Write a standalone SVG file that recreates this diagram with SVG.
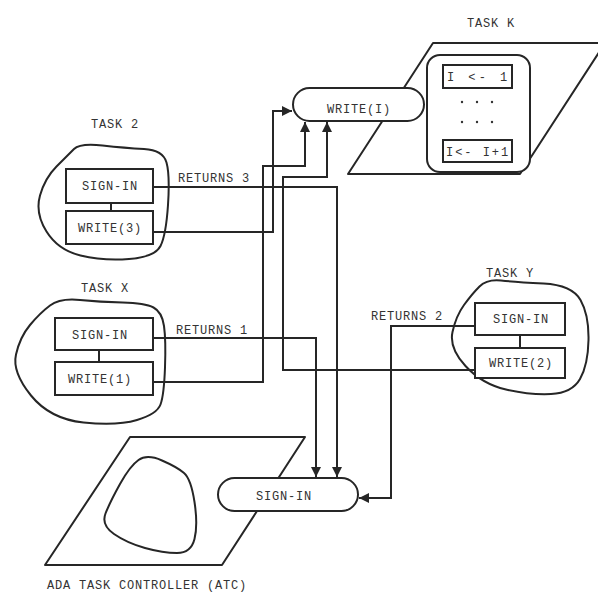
<svg xmlns="http://www.w3.org/2000/svg" width="598" height="593" viewBox="0 0 598 593">
<style>
.s{fill:none;stroke:#262626;stroke-width:2;stroke-linejoin:round}
.w{fill:#fff;stroke:#262626;stroke-width:2}
.c{fill:none;stroke:#262626;stroke-width:2}
text{font-family:"Liberation Mono","DejaVu Sans Mono",monospace;font-size:12px;fill:#333;letter-spacing:0.8px}
.m{text-anchor:middle}
</style>
<defs>
<marker id="ah" markerUnits="userSpaceOnUse" markerWidth="12" markerHeight="12" refX="10" refY="5" orient="auto">
<path d="M0,0 L10,5 L0,10 Z" fill="#262626"/>
</marker>
</defs>
<rect width="598" height="593" fill="#fff"/>

<g id="task-k">
<polygon class="s" points="433,43 605,43 520,174 348,174"/>
<rect class="w" x="427" y="55" width="103" height="117" rx="13"/>
<rect class="w" x="443" y="65" width="69" height="23"/>
<text x="447" y="81" textLength="61">I &lt;- 1</text>
<g fill="#333">
<circle cx="462" cy="102" r="1.2"/><circle cx="477" cy="102" r="1.2"/><circle cx="492" cy="102" r="1.2"/>
<circle cx="462" cy="122" r="1.2"/><circle cx="477" cy="122" r="1.2"/><circle cx="492" cy="122" r="1.2"/>
</g>
<rect class="w" x="443" y="140" width="69" height="22"/>
<text x="446" y="156" textLength="63">I&lt;- I+1</text>
<text class="m" x="491" y="27">TASK K</text>
</g>

<g id="write-i">
<rect class="w" x="293" y="88" width="131" height="33" rx="16.5"/>
<text class="m" x="359" y="113">WRITE(I)</text>
</g>

<g id="task-2">
<path class="s" d="M74,149 Q80,143 102.5,145.5 Q125,148 144,149 Q163,150 166.5,162.5 Q170,175 168,205 Q166,235 160.5,246 Q155,257 129,259 Q103,261 80.5,255.5 Q58,250 46.5,231.5 Q35,213 40,195.5 Q45,178 56.5,166.5 Q68,155 74,149 Z"/>
<rect class="w" x="66" y="169" width="87" height="34"/>
<line class="c" x1="111" y1="203" x2="111" y2="211"/>
<rect class="w" x="66" y="211" width="87" height="33"/>
<text class="m" x="110" y="190">SIGN-IN</text>
<text class="m" x="110" y="232">WRITE(3)</text>
<text class="m" x="115" y="128">TASK 2</text>
</g>

<g id="task-x">
<path class="s" d="M50,305.5 Q60,298 80,300 Q100,302 122.5,302.5 Q145,303 153.5,307.5 Q162,312 164,326 Q166,340 165,367.5 Q164,395 160.5,404.5 Q157,414 137,420 Q117,426 83.5,422.5 Q50,419 31,395.5 Q12,372 16,354.5 Q20,337 30,325 Q40,313 50,305.5 Z"/>
<rect class="w" x="55" y="318" width="98" height="32"/>
<line class="c" x1="99" y1="350" x2="99" y2="362"/>
<rect class="w" x="55" y="362" width="98" height="33"/>
<text class="m" x="100" y="339">SIGN-IN</text>
<text class="m" x="100" y="383">WRITE(1)</text>
<text class="m" x="105" y="292">TASK X</text>
</g>

<g id="task-y">
<path class="s" d="M479.5,286.5 Q487,279 501,280.5 Q515,282 543.5,283.5 Q572,285 580.5,300 Q589,315 588.5,340 Q588,365 580,379 Q572,393 551,394 Q530,395 506,389.5 Q482,384 465.5,366 Q449,348 452.5,332 Q456,316 464,305 Q472,294 479.5,286.5 Z"/>
<rect class="w" x="475" y="303" width="90" height="32"/>
<line class="c" x1="520" y1="335" x2="520" y2="348"/>
<rect class="w" x="475" y="348" width="90" height="30"/>
<text class="m" x="521" y="323">SIGN-IN</text>
<text class="m" x="521" y="367">WRITE(2)</text>
<text class="m" x="510" y="277">TASK Y</text>
</g>

<g id="atc">
<polygon class="s" points="130,437 305,437 222,565 45,565"/>
<path class="s" d="M138.5,460 Q147,454 162,460.5 Q177,467 184,473 Q191,479 194.5,502 Q198,525 194.5,539 Q191,553 177,553 Q163,553 145,548 Q127,543 114,534 Q101,525 105.5,513.5 Q110,502 120,484 Q130,466 138.5,460 Z"/>
<text x="47" y="589">ADA TASK CONTROLLER (ATC)</text>
</g>

<g id="sign-in-atc">
<rect class="w" x="218" y="478" width="140" height="33" rx="16.5"/>
<text class="m" x="284" y="500">SIGN-IN</text>
</g>

<g id="connectors">
<path class="c" d="M153,232 H273 V111 H292" marker-end="url(#ah)"/>
<path class="c" d="M153,382 H263 V166 H305 V122" marker-end="url(#ah)"/>
<path class="c" d="M475,370 H283 V177 H327 V122" marker-end="url(#ah)"/>
<path class="c" d="M153,187 H337 V477" marker-end="url(#ah)"/>
<path class="c" d="M153,338 H316 V477" marker-end="url(#ah)"/>
<path class="c" d="M475,326 H391 V498 H359" marker-end="url(#ah)"/>
<text class="m" x="214" y="182">RETURNS 3</text>
<text class="m" x="212" y="334">RETURNS 1</text>
<text class="m" x="407" y="320">RETURNS 2</text>
</g>
</svg>
